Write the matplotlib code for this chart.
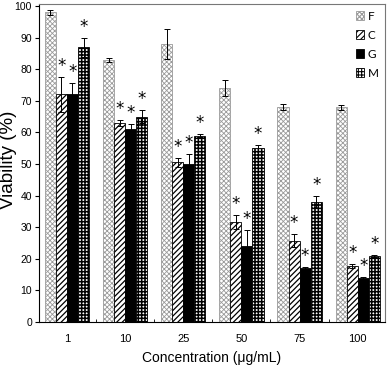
import matplotlib
matplotlib.use("Agg")
import matplotlib.pyplot as plt
import numpy as np

categories = ["1", "10", "25", "50", "75", "100"]
series_names = ["F", "C", "G", "M"]
F_vals = [98, 83, 88, 74, 68, 68]
F_err = [0.8, 0.6, 4.8, 2.5, 0.9, 0.8]
C_vals = [72, 63, 50.5, 31.7, 25.7, 17.8]
C_err = [5.5, 1.0, 1.3, 2.2, 2.1, 0.7]
G_vals = [72, 61, 50, 24, 17, 14]
G_err = [3.7, 1.8, 3.3, 5.0, 0.4, 0.3]
M_vals = [87, 65, 59, 55, 38, 21]
M_err = [3.0, 2.0, 0.4, 0.9, 1.9, 0.3]
stars = [False, True, True, True]

plt.rcParams['font.family'] = ['Liberation Sans', 'DejaVu Sans']
plt.rcParams['hatch.linewidth'] = 0.8

fig = plt.figure(figsize=(3.87, 3.68), dpi=100)
ax = fig.add_axes([0.1008, 0.125, 0.8942, 0.864])

x = np.arange(len(categories))
w = 0.19
vals = [F_vals, C_vals, G_vals, M_vals]
errs = [F_err, C_err, G_err, M_err]
styles = [
    dict(facecolor='white', edgecolor='#9a9a9a', hatch='xxxxxxx'),
    dict(facecolor='white', edgecolor='black', hatch='//////'),
    dict(facecolor='black', edgecolor='black', hatch=None),
    dict(facecolor='white', edgecolor='black', hatch='+++++'),
]
hlw = [0.6, 0.9, 0.8, 1.1]
handles = []
for i, (v, e, st) in enumerate(zip(vals, errs, styles)):
    pos = x + (i - 1.5) * w
    b = ax.bar(pos, v, width=w, linewidth=0.6, label=series_names[i], zorder=2, **st)
    for p in b.patches:
        try:
            p.set_hatch_linewidth(hlw[i])
        except Exception:
            pass
    handles.append(b)
    ax.errorbar(pos, v, yerr=e, fmt='none', ecolor='black', elinewidth=0.7,
                capsize=2.5, capthick=0.7, zorder=3)
    if stars[i]:
        for p, vv, ee in zip(pos, v, e):
            ax.text(p, vv + ee + 0.6, '*', ha='center', va='bottom',
                    fontsize=12, family='DejaVu Sans')

ax.set_xlim(-0.48, 5.47)
ax.set_ylim(0, 100.6)
ax.set_yticks(range(0, 101, 10))
ax.set_xticks(x)
ax.set_xticklabels(categories)
ax.set_xticks(x[:-1] + 0.5, minor=True)
ax.tick_params(axis='y', direction='out', length=3, labelsize=7.5, pad=2)
ax.tick_params(axis='x', which='major', length=0, labelsize=8, pad=9)
ax.tick_params(axis='x', which='minor', direction='in', length=2)
for s in ['top', 'right']:
    ax.spines[s].set_color('#777777')
ax.set_ylabel('Viability (%)', fontsize=13.5)
ax.yaxis.set_label_coords(-0.064, 0.51)
ax.set_xlabel('Concentration (μg/mL)', fontsize=10, labelpad=5)

leg = ax.legend(handles=handles, loc='upper right', frameon=False,
                prop={'family': 'Lato', 'size': 8.5}, handlelength=0.7,
                handleheight=0.7, handletextpad=0.3, labelspacing=0.68,
                borderaxespad=0.15)

fig.savefig('out.png', dpi=100)
